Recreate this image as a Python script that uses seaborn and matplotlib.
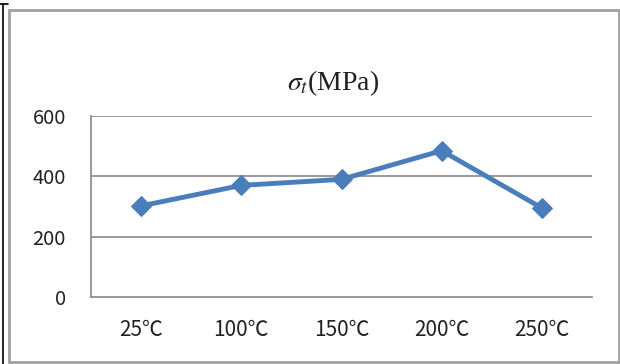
import matplotlib
matplotlib.use("Agg")
import matplotlib.pyplot as plt
import seaborn as sns
import pandas as pd
from matplotlib.patches import Rectangle
from matplotlib.lines import Line2D

categories = ["25℃", "100℃", "150℃", "200℃", "250℃"]
values = [302, 370, 390, 485, 295]
yticks = [0, 200, 400, 600]

sns.set_theme(style="white")
plt.rcParams['font.family'] = ['Noto Sans CJK SC', 'DejaVu Sans']
plt.rcParams['mathtext.fontset'] = 'stix'

df = pd.DataFrame({"temp": categories, "val": values})

fig = plt.figure(figsize=(6.2, 3.64), dpi=100)
ax = fig.add_axes([91/620, 1 - 297/364, (592-91)/620, (297-116)/364])

sns.lineplot(data=df, x="temp", y="val", ax=ax, color="#4A7EBB", linewidth=3.5,
             marker="D", markersize=10, markeredgecolor="#4A7EBB", sort=False)

ax.set_xlim(-0.5, 4.5)
ax.set_ylim(0, 600)
ax.set_yticks(yticks)
ax.set_yticklabels([str(t) for t in yticks], fontsize=14.5, color="#222222")
ax.set_xticks(range(len(categories)))
ax.set_xticklabels(categories, fontsize=15, color="#222222")
ax.tick_params(axis="y", length=0, pad=18)
ax.tick_params(axis="x", length=0, pad=16)
ax.set_xlabel("")
ax.set_ylabel("")
for y in yticks[1:]:
    ax.axhline(y, color="#888888", linewidth=1.2, zorder=0)
for s in ["top", "right"]:
    ax.spines[s].set_visible(False)
for s in ["left", "bottom"]:
    ax.spines[s].set_color("#888888")
    ax.spines[s].set_linewidth(1.2)

fig.text(333/620, 1 - 83/364, r"$\sigma_t$(MPa)", ha="center", va="center",
         fontsize=20, family="Liberation Serif", color="#222222")

fig.patches.append(Rectangle((9/620, 2/364), (619-9)/620, (354-2)/364,
                             transform=fig.transFigure, fill=False,
                             edgecolor="#A0A0A0", linewidth=2))
fig.lines.append(Line2D([2.5/620, 2.5/620], [0, 1 - 4/364],
                        transform=fig.transFigure, color="black", linewidth=1.2))
fig.lines.append(Line2D([0, 8/620], [1 - 4/364, 1 - 4/364],
                        transform=fig.transFigure, color="black", linewidth=1.2))
fig.savefig("out.png", dpi=100)
